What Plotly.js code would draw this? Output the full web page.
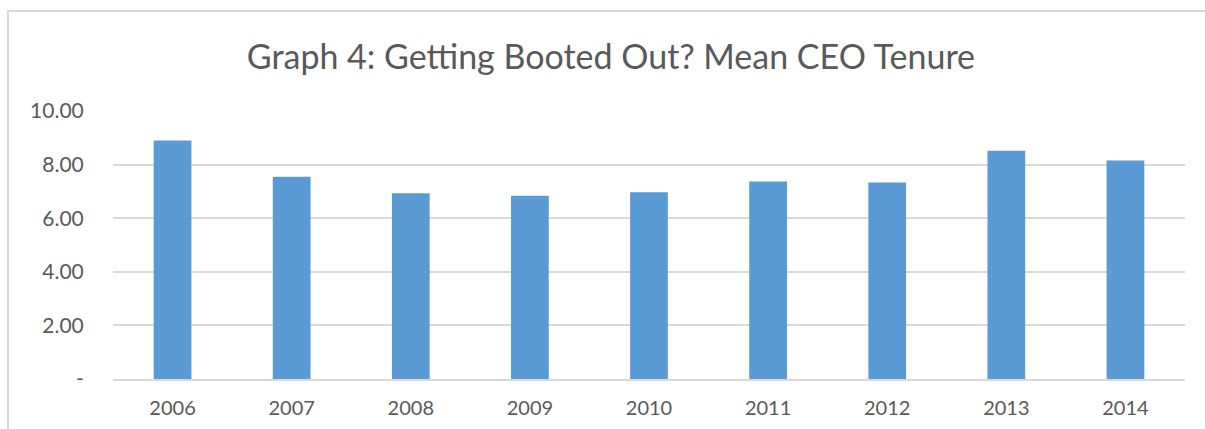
<!DOCTYPE html>
<html>
<head>
<meta charset="utf-8">
<script src="https://cdn.plot.ly/plotly-3.0.1.min.js"></script>
<style>
  html, body { margin: 0; padding: 0; background: #ffffff; overflow: hidden; }
  #wrap { position: relative; width: 1205px; height: 429px; }
  #chart { width: 1205px; height: 429px; }
  #frame { position: absolute; left: 7px; top: 10px; width: 1400px; height: 600px;
           border-left: 2px solid #d9d9d9; border-top: 2px solid #d9d9d9; pointer-events: none; }
</style>
</head>
<body>
<div id="wrap">
  <div id="chart"></div>
  <div id="frame"></div>
</div>
<script>
const years = ['2006', '2007', '2008', '2009', '2010', '2011', '2012', '2013', '2014'];
const meanTenure = [8.90, 7.55, 6.93, 6.84, 6.97, 7.37, 7.33, 8.52, 8.15];
const yTickValues = [0, 2, 4, 6, 8, 10];
const yTickLabels = ['-', '2.00', '4.00', '6.00', '8.00', '10.00'];
const chartTitle = 'Graph 4: Getting Booted Out? Mean CEO Tenure';

const FONT = 'Lato, "Open Sans", "DejaVu Sans", sans-serif';
const TEXT = '#595959';

const trace = {
  type: 'bar',
  x: years,
  y: meanTenure,
  marker: { color: '#5b9bd5', line: { width: 0 } },
  hoverinfo: 'x+y'
};

const layout = {
  width: 1205,
  height: 429,
  margin: { l: 113, r: 20, t: 111, b: 50, pad: 0 },
  paper_bgcolor: '#ffffff',
  plot_bgcolor: '#ffffff',
  showlegend: false,
  bargap: 0.683,
  title: {
    text: chartTitle,
    font: { family: FONT, size: 34, color: TEXT },
    x: 0.507, xanchor: 'center', xref: 'container',
    y: 1 - 57 / 429, yanchor: 'middle', yref: 'container'
  },
  xaxis: {
    type: 'category',
    showgrid: false,
    showline: true,
    linecolor: '#d9d9d9',
    linewidth: 2,
    ticks: 'outside',
    ticklen: 10,
    tickcolor: 'rgba(0,0,0,0)',
    tickfont: { family: FONT, size: 20, color: TEXT },
    zeroline: false
  },
  yaxis: {
    range: [0, 10],
    tickvals: yTickValues,
    ticktext: yTickLabels,
    showgrid: true,
    gridcolor: '#d9d9d9',
    gridwidth: 2,
    zeroline: false,
    showline: false,
    ticks: 'outside',
    ticklen: 24,
    tickcolor: 'rgba(0,0,0,0)',
    tickfont: { family: FONT, size: 21, color: TEXT }
  }
};

Plotly.newPlot('chart', [trace], layout, { displayModeBar: false, staticPlot: true });
</script>
</body>
</html>
